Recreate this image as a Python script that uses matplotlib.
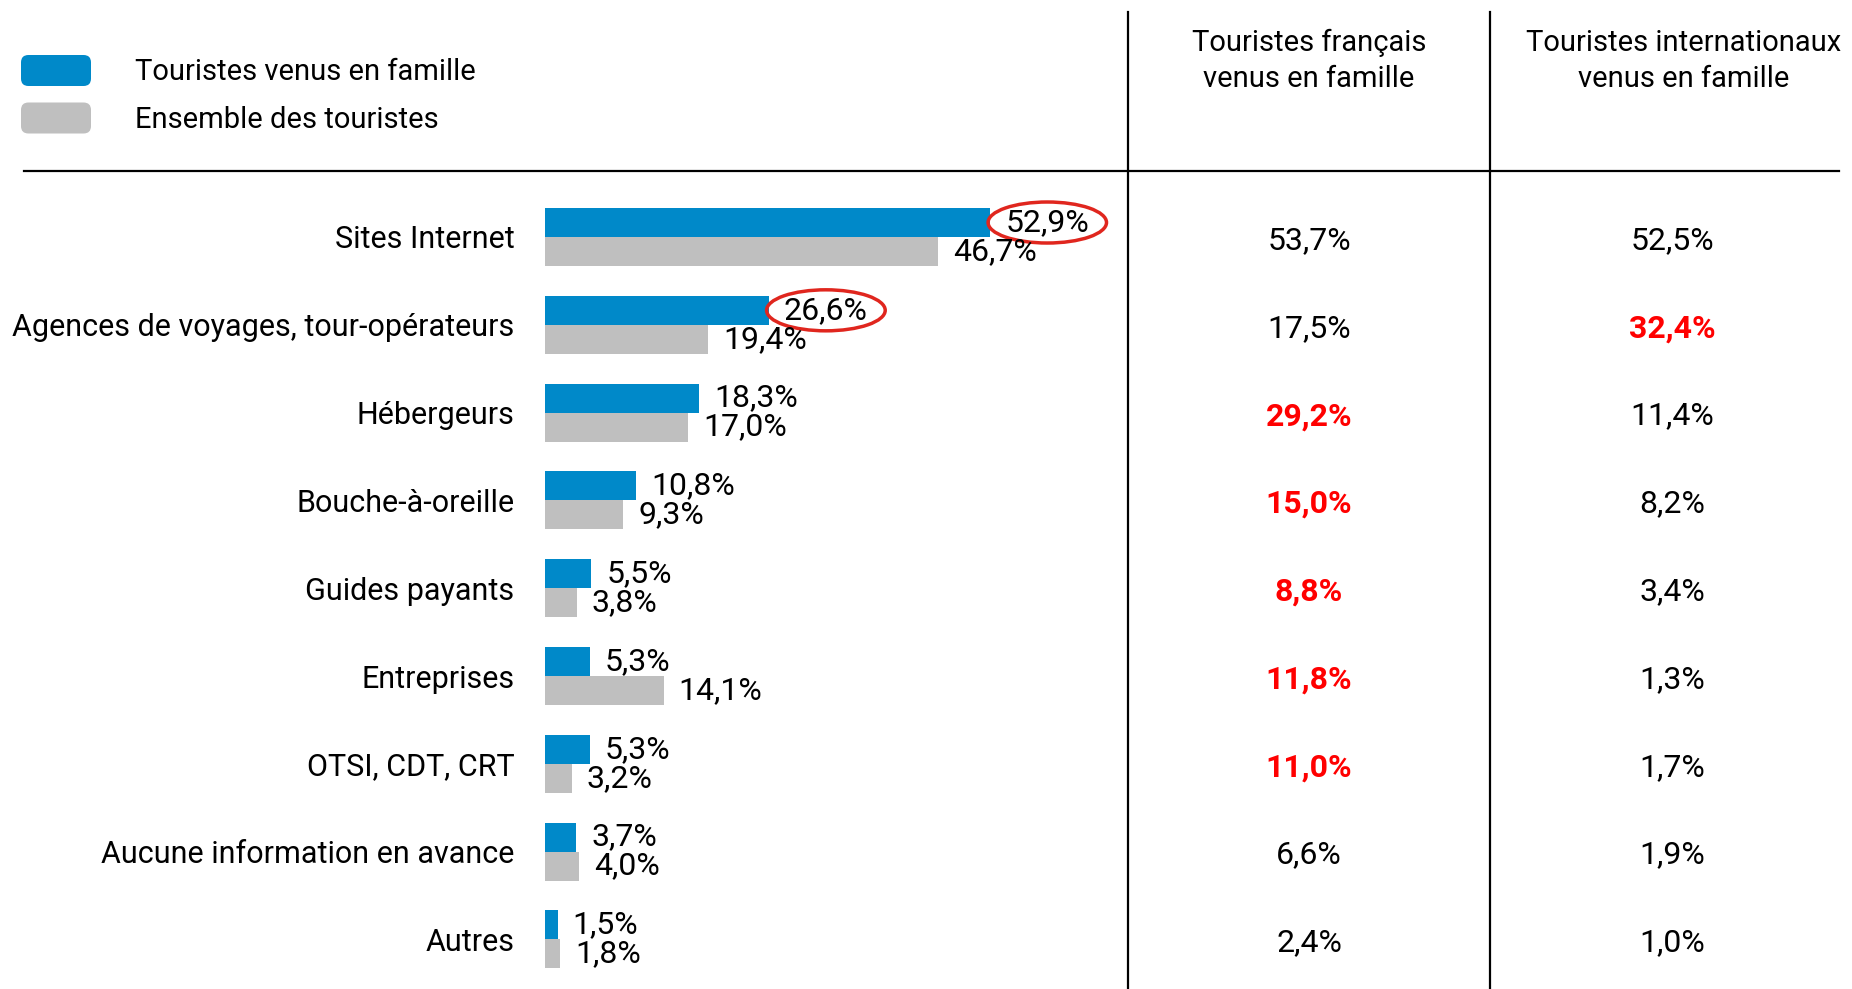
import matplotlib
matplotlib.use("Agg")
import matplotlib.pyplot as plt
from matplotlib.patches import FancyBboxPatch
from matplotlib.lines import Line2D
import matplotlib.transforms as mtransforms

plt.rcParams['font.family'] = ['Roboto', 'DejaVu Sans']

categories = ["Sites Internet", "Agences de voyages, tour-opérateurs", "Hébergeurs",
              "Bouche-à-oreille", "Guides payants", "Entreprises", "OTSI, CDT, CRT",
              "Aucune information en avance", "Autres"]
famille = [52.9, 26.6, 18.3, 10.8, 5.5, 5.3, 5.3, 3.7, 1.5]
ensemble = [46.7, 19.4, 17.0, 9.3, 3.8, 14.1, 3.2, 4.0, 1.8]
francais = [53.7, 17.5, 29.2, 15.0, 8.8, 11.8, 11.0, 6.6, 2.4]
internationaux = [52.5, 32.4, 11.4, 8.2, 3.4, 1.3, 1.7, 1.9, 1.0]
francais_highlight = [False, False, True, True, True, True, True, False, False]
internationaux_highlight = [False, True, False, False, False, False, False, False, False]
circled_famille = [0, 1]

series_names = ["Touristes venus en famille", "Ensemble des touristes"]
col_headers = ["Touristes français\nvenus en famille", "Touristes internationaux\nvenus en famille"]

BLUE = "#0089C9"
GRAY = "#BFBFBF"
RED = "#FF0000"
RING = "#E0261E"

W, H = 1852, 989
fig = plt.figure(figsize=(W / 100, H / 100), dpi=100)

def fx(px):
    return px / W

def fy(py):
    return 1 - py / H

LAB_FS = 22
VAL_FS = 23
HEAD_FS = 21

# bar axes
ax_left, ax_right = 545, 1128
ax_top, ax_bottom = 171, 989
ax = fig.add_axes([fx(ax_left), fy(ax_bottom), fx(ax_right - ax_left), (ax_bottom - ax_top) / H])
px_per_pct = 8.42
row0, row_step = 237, 87.8
ax.set_xlim(0, (ax_right - ax_left) / px_per_pct)
ax.set_ylim((ax_bottom - row0) / row_step, (ax_top - row0) / row_step)
for s in ax.spines.values():
    s.set_visible(False)
ax.set_xticks([])
n = len(categories)
ys = list(range(n))
bh = 0.33
ax.barh([y - bh / 2 for y in ys], famille, height=bh, color=BLUE, align='center')
ax.barh([y + bh / 2 for y in ys], ensemble, height=bh, color=GRAY, align='center')
ax.set_yticks(ys)
ax.set_yticklabels(categories, fontsize=LAB_FS)
ax.tick_params(axis='y', length=0, pad=22)

off = 15 / px_per_pct
def fmt(v):
    return f"{v:.1f}".replace(".", ",") + "%"

for i in ys:
    kw = dict(fontsize=VAL_FS, va='center', ha='left')
    if i in circled_famille:
        kw['bbox'] = dict(boxstyle='ellipse,pad=0.0', fc='none', ec=RING, lw=2.5)
    ax.text(famille[i] + off, i - bh / 2, fmt(famille[i]), **kw)
    ax.text(ensemble[i] + off, i + bh / 2, fmt(ensemble[i]), fontsize=VAL_FS, va='center', ha='left')

# table columns
trans = mtransforms.blended_transform_factory(fig.transFigure, ax.transData)
col_val_x = [1309, 1672]
col_head_x = [1309, 1684]
for j, (vals, hl) in enumerate([(francais, francais_highlight), (internationaux, internationaux_highlight)]):
    for i in ys:
        ax.text(fx(col_val_x[j]), i + 0.04, fmt(vals[i]), transform=trans, fontsize=VAL_FS,
                ha='center', va='center', color=RED if hl[i] else 'black',
                fontweight='bold' if hl[i] else 'normal', clip_on=False)
    fig.text(fx(col_head_x[j]), fy(61), col_headers[j], fontsize=HEAD_FS, ha='center', va='center',
             linespacing=1.35)

# rules
fig.add_artist(Line2D([fx(24), fx(1839)], [fy(171), fy(171)], color='black', lw=1.6))
for xv in [1128, 1490]:
    fig.add_artist(Line2D([fx(xv), fx(xv)], [fy(12), fy(989)], color='black', lw=1.6))

# legend
for k, (col, ty) in enumerate([(BLUE, 70.5), (GRAY, 118)]):
    p = FancyBboxPatch((fx(21), fy(ty + 15.5)), fx(70), 31 / H,
                       boxstyle='round,pad=0,rounding_size=0.004', fc=col, ec='none',
                       transform=fig.transFigure, mutation_aspect=W / H)
    fig.add_artist(p)
    fig.text(fx(135), fy(ty + 2), series_names[k], fontsize=21, ha='left', va='center')

fig.savefig("out.png", dpi=100)
